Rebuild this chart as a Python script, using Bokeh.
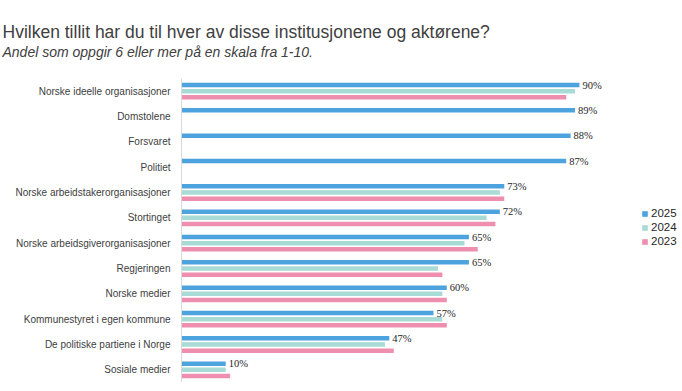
from bokeh.plotting import figure
from bokeh.models import (ColumnDataSource, FactorRange, Range1d, Legend, LegendItem,
                          Title, LabelSet)
from bokeh.transform import dodge
from bokeh.embed import file_html
from bokeh.resources import INLINE

categories = ["Norske ideelle organisasjoner", "Domstolene", "Forsvaret", "Politiet",
              "Norske arbeidstakerorganisasjoner", "Stortinget",
              "Norske arbeidsgiverorganisasjoner", "Regjeringen", "Norske medier",
              "Kommunestyret i egen kommune", "De politiske partiene i Norge",
              "Sosiale medier"]
v2025 = [90, 89, 88, 87, 73, 72, 65, 65, 60, 57, 47, 10]
v2024 = [89, 0, 0, 0, 72, 69, 64, 58, 59, 59, 46, 10]
v2023 = [87, 0, 0, 0, 73, 71, 67, 59, 60, 60, 48, 11]
years = ["2025", "2024", "2023"]
colors = ["#4da3dd", "#a8dbd6", "#ef8fb0"]

labels2025 = [f"{v}%" for v in v2025]

src = ColumnDataSource(dict(cat=categories, v2025=v2025, v2024=v2024, v2023=v2023,
                            lab=labels2025))

FONT = "Liberation Sans"

p = figure(width=678, height=382, output_backend="svg", toolbar_location=None,
           y_range=FactorRange(*reversed(categories)), x_range=Range1d(0, 112.4),
           min_border_left=181, min_border_right=0, min_border_bottom=0, min_border_top=0)

offsets = [0.243, 0.0, -0.243]
renderers = []
for col, off, c in zip(["v2025", "v2024", "v2023"], offsets, colors):
    r = p.hbar(y=dodge("cat", off, range=p.y_range), right=col, left=0, height=0.18,
               source=src, fill_color=c, line_color=None)
    renderers.append(r)

labels = LabelSet(x="v2025", y=dodge("cat", 0.243, range=p.y_range), text="lab",
                  source=src, x_offset=3, text_font_size="10.5px", text_font=FONT,
                  text_color="#262626", text_baseline="middle")
p.add_layout(labels)

legend = Legend(items=[LegendItem(label=y, renderers=[r]) for y, r in zip(years, renderers)],
                location=(460, 134), orientation="vertical", padding=0, margin=0,
                spacing=0, glyph_width=7, glyph_height=7, label_height=14,
                label_standoff=3, label_text_font_size="11.5px", label_text_font=FONT,
                label_text_color="#262626", border_line_color=None,
                background_fill_alpha=0)
p.add_layout(legend)

# spacer between subtitle and plot area
p.add_layout(Title(text=" ", text_font_size="16px", standoff=0), "above")
p.add_layout(Title(text="Andel som oppgir 6 eller mer på en skala fra 1-10.",
                   text_font_size="14px", text_font_style="italic", text_font=FONT,
                   text_color="#404040", align="left", offset=-179, standoff=0), "above")
p.add_layout(Title(text="Hvilken tillit har du til hver av disse institusjonene og aktørene?",
                   text_font_size="17.5px", text_font_style="normal", text_font=FONT,
                   text_color="#404040", align="left", offset=-179, standoff=0), "above")
# spacer above the title
p.add_layout(Title(text=" ", text_font_size="16px", standoff=0), "above")

p.xaxis.visible = False
p.xgrid.visible = False
p.ygrid.visible = False
p.outline_line_color = None
p.yaxis.axis_line_color = "#d9d9d9"
p.yaxis.major_tick_line_color = None
p.yaxis.minor_tick_line_color = None
p.yaxis.major_label_text_font_size = "10px"
p.yaxis.major_label_text_font = FONT
p.yaxis.major_label_text_color = "#404040"
p.yaxis.major_label_standoff = 5

open("out.html", "w").write(file_html(p, INLINE))
